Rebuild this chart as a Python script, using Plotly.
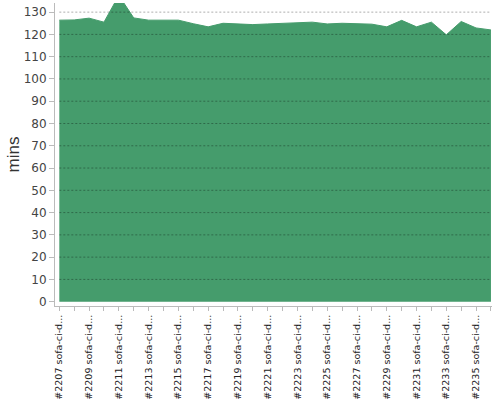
import plotly.graph_objects as go

# build numbers #2207 .. #2236, shown truncated like in the original
builds = list(range(2207, 2237))
labels = ["#%d sofa-ci-d..." % b for b in builds]

# duration of each build in minutes
mins = [126.4, 126.5, 127.3, 125.5, 137.5, 127.4, 126.4, 126.4, 126.4, 124.8,
        123.4, 125.0, 124.7, 124.4, 124.7, 124.9, 125.0, 125.5, 124.7, 125.0,
        124.8, 124.6, 123.4, 126.3, 123.4, 125.5, 119.8, 125.8, 122.9, 122.0]

y_ticks = list(range(0, 140, 10))

# only every other build gets a label, every build gets a tick
tick_text = [lab if i % 2 == 0 else "" for i, lab in enumerate(labels)]

fig = go.Figure()
fig.add_trace(go.Scatter(
    x=labels,
    y=mins,
    mode="lines",
    fill="tozeroy",
    line=dict(color="#459c6c", width=1),
    fillcolor="#459c6c",
    hoverinfo="x+y",
))

# dashed grid drawn above the area, like the original
for v in y_ticks[1:]:
    fig.add_shape(type="line", xref="x", yref="y",
                  x0=labels[0], x1=labels[-1], y0=v, y1=v,
                  line=dict(color="rgba(0,0,0,0.32)", width=1, dash="2px,2px"),
                  layer="above")

fig.update_layout(
    width=500, height=400,
    margin=dict(l=55, r=8, t=3, b=94),
    paper_bgcolor="white",
    plot_bgcolor="white",
    showlegend=False,
    font=dict(family="DejaVu Sans", color="#444"),
    xaxis=dict(
        type="category",
        range=[-0.29, 29.07],
        tickmode="array",
        tickvals=labels,
        ticktext=tick_text,
        tickangle=-90,
        tickfont=dict(size=9.5, color="#222"),
        ticks="outside", ticklen=4, tickcolor="#bbb",
        showline=True, linecolor="#bbb", linewidth=1,
        showgrid=False, zeroline=False,
        automargin=False,
    ),
    yaxis=dict(
        range=[-1.94, 134.1],
        tickvals=y_ticks,
        tickfont=dict(size=12, color="#444"),
        ticks="outside", ticklen=5, tickcolor="#bbb",
        showline=True, linecolor="#bbb", linewidth=1,
        showgrid=False, zeroline=False,
        automargin=False,
    ),
    annotations=[dict(
        text="mins", textangle=-90,
        xref="paper", yref="paper", x=0, y=0.5,
        xanchor="center", yanchor="middle", xshift=-42,
        showarrow=False,
        font=dict(family="Liberation Sans", size=17, color="#333"),
    )],
)

# the page body has a default 8px margin, drop it so the chart sits at 0,0
fig.write_html("out.html",
               config={"displayModeBar": False},
               post_script="document.body.style.margin='0';document.body.style.overflow='hidden';")
